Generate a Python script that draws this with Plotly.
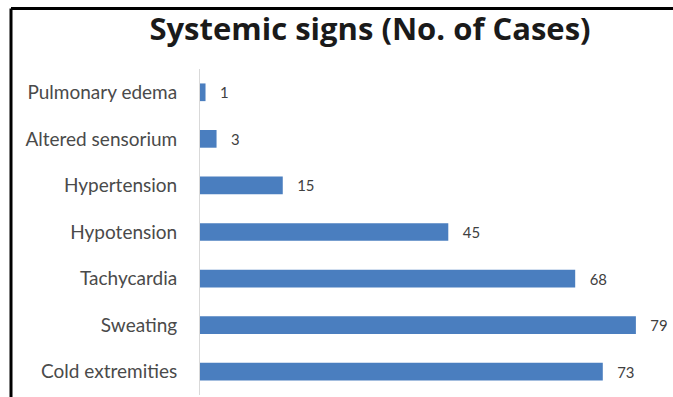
import plotly.graph_objects as go

categories = ["Cold extremities", "Sweating", "Tachycardia", "Hypotension",
              "Hypertension", "Altered sensorium", "Pulmonary edema"]
cases = [73, 79, 68, 45, 15, 3, 1]
title_text = "Systemic signs (No. of Cases)"

W, H = 673, 397
ML, MR, MT, MB = 200, 4, 69, 2

fig = go.Figure(go.Bar(
    y=categories, x=cases, orientation="h",
    marker=dict(color="#4A7EBF", line=dict(width=0)),
    width=0.38,
    text=cases, texttemplate="   %{x}", textposition="outside",
    textfont=dict(family="Lato", size=16, color="#404040"),
    cliponaxis=False,
))

pw = W - ML - MR
ph = H - MT - MB
def px_x(p):
    return (p - ML) / pw
def px_y(p):
    return (H - MB - p) / ph

fig.update_layout(
    width=W, height=H,
    margin=dict(l=ML, r=MR, t=MT, b=MB),
    paper_bgcolor="white", plot_bgcolor="white",
    showlegend=False,
    title=dict(text="<b>" + title_text + "</b>", x=370 / W, xanchor="center",
               y=1 - 29 / H, yanchor="middle", yref="container",
               font=dict(family="Open Sans", size=31, color="#1a1a1a")),
    xaxis=dict(range=[0, 85], showgrid=False, zeroline=False, showline=False,
               showticklabels=False, ticks=""),
    yaxis=dict(showgrid=False, zeroline=False, showline=True,
               linecolor="#D9D9D9", linewidth=1, ticks="",
               ticklabelstandoff=18, range=[-0.5, 6.5],
               tickfont=dict(family="Lato", size=19, color="#4a4a4a")),
    shapes=[
        dict(type="line", xref="paper", yref="paper",
             x0=px_x(11), x1=px_x(W + 5), y0=px_y(8.5), y1=px_y(8.5),
             line=dict(color="black", width=3)),
        dict(type="line", xref="paper", yref="paper",
             x0=px_x(11), x1=px_x(11), y0=px_y(8.5), y1=px_y(H + 5),
             line=dict(color="black", width=3)),
    ],
)

fig.write_html("out.html")
